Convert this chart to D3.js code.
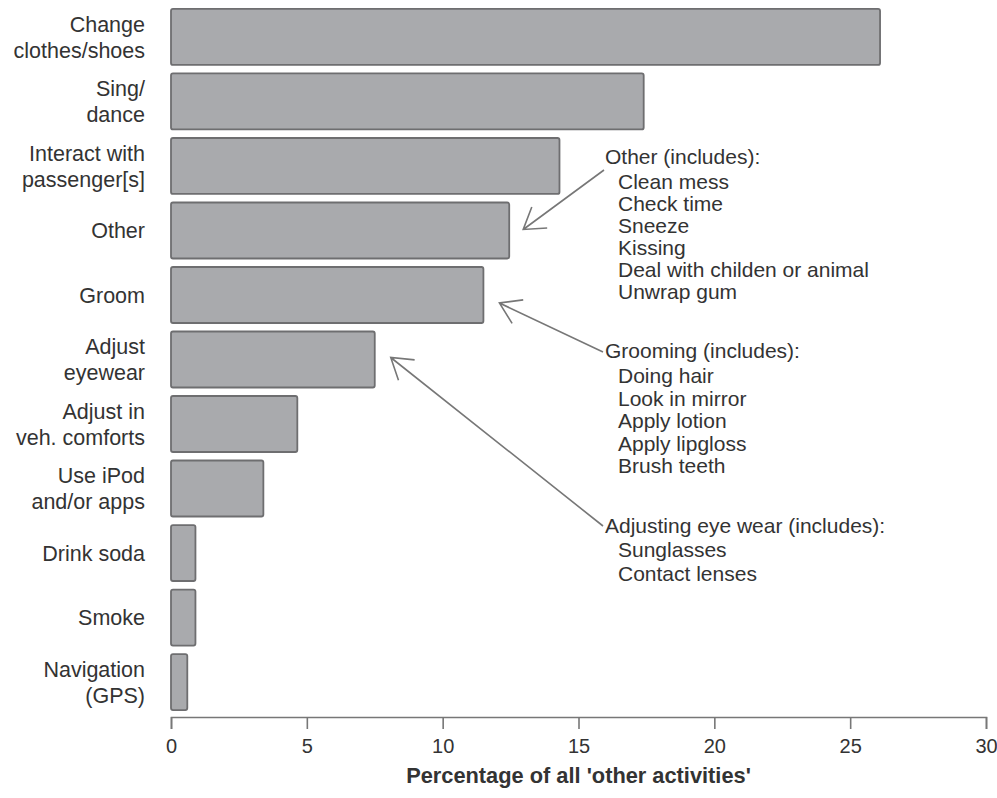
<!DOCTYPE html>
<html><head><meta charset="utf-8">
<script src="https://cdn.jsdelivr.net/npm/d3@7"></script>
<style>body{margin:0;background:#fff}svg{display:block}</style>
</head><body><svg id="c" width="997" height="798"></svg>
<script>
// ---- data ----
const categories = ["Change\nclothes/shoes","Sing/\ndance","Interact with\npassenger[s]","Other","Groom","Adjust\neyewear","Adjust in\nveh. comforts","Use iPod\nand/or apps","Drink soda","Smoke","Navigation\n(GPS)"];
const values = [26.1, 17.4, 14.3, 12.45, 11.5, 7.5, 4.65, 3.4, 0.9, 0.9, 0.6];
const tickValues = [0, 5, 10, 15, 20, 25, 30];
const axisTitle = "Percentage of all 'other activities'";
const otherNotes = ["Other (includes):","Clean mess","Check time","Sneeze","Kissing","Deal with childen or animal","Unwrap gum"];
const groomNotes = ["Grooming (includes):","Doing hair","Look in mirror","Apply lotion","Apply lipgloss","Brush teeth"];
const eyeNotes = ["Adjusting eye wear (includes):","Sunglasses","Contact lenses"];

// ---- layout ----
const svg = d3.select("#c");
const font = "'Liberation Sans', Arial, Helvetica, sans-serif";
const textCol = "#333";
const x = d3.scaleLinear().domain([0, 30]).range([171, 986]);
const y = d3.scaleBand().domain(categories).range([4.7, 714.3]).paddingInner(0.132).paddingOuter(0.066);

// bars
svg.append("g").selectAll("rect").data(values).join("rect")
  .attr("x", x(0))
  .attr("y", (d, i) => y(categories[i]))
  .attr("width", d => x(d) - x(0))
  .attr("height", y.bandwidth())
  .attr("rx", 2)
  .attr("fill", "#a9aaad")
  .attr("stroke", "#6e6e70")
  .attr("stroke-width", 1.8);

// category labels
const lab = svg.append("g").attr("font-family", font).attr("font-size", 21.5).attr("fill", textCol).attr("text-anchor", "end");
categories.forEach(c => {
  const lines = c.split("\n");
  const cy = y(c) + y.bandwidth() / 2;
  const lh = 26;
  lines.forEach((ln, j) => {
    lab.append("text")
      .attr("x", 145)
      .attr("y", cy + (j - (lines.length - 1) / 2) * lh)
      .attr("dy", "0.36em")
      .text(ln);
  });
});

// x axis
const axis = d3.axisBottom(x).tickValues(tickValues).tickSize(12).tickPadding(10).tickSizeOuter(12);
const ag = svg.append("g").attr("transform", "translate(0,717)").call(axis);
ag.select(".domain").attr("stroke", "#777").attr("stroke-width", 1.6);
ag.selectAll(".tick line").attr("stroke", "#777").attr("stroke-width", 1.6);
ag.selectAll(".tick text").attr("font-family", font).attr("font-size", 20).attr("fill", textCol);

svg.append("text")
  .attr("x", x(15)).attr("y", 783)
  .attr("text-anchor", "middle")
  .attr("font-family", font).attr("font-size", 21.8).attr("font-weight", "bold").attr("fill", textCol)
  .text(axisTitle);

// annotations
function notes(arr, x0, yHead, yFirst, lh) {
  const g = svg.append("g").attr("font-family", font).attr("font-size", 21).attr("fill", textCol);
  arr.forEach((t, i) => {
    g.append("text")
      .attr("x", i === 0 ? x0 : x0 + 13)
      .attr("y", i === 0 ? yHead : yFirst + (i - 1) * lh)
      .text(t);
  });
}
notes(otherNotes, 605, 164, 189, 22);
notes(groomNotes, 605, 358, 383, 22.5);
notes(eyeNotes, 605, 533, 557, 23.5);

// arrows
function arrow(x1, y1, x2, y2) {
  const ang = Math.atan2(y1 - y2, x1 - x2);
  const L = 24, h = Math.PI / 5.5;
  const p = d3.path();
  p.moveTo(x1, y1); p.lineTo(x2, y2);
  p.moveTo(x2 + L * Math.cos(ang - h), y2 + L * Math.sin(ang - h));
  p.lineTo(x2, y2);
  p.lineTo(x2 + L * Math.cos(ang + h), y2 + L * Math.sin(ang + h));
  svg.append("path").attr("d", p.toString()).attr("fill", "none")
    .attr("stroke", "#777").attr("stroke-width", 1.6);
}
const cy = c => y(c) + y.bandwidth() / 2;
arrow(604, 170, x(values[3]) + 14, cy(categories[3]) - 1);
arrow(603, 352, x(values[4]) + 16, cy(categories[4]) + 8);
arrow(603, 526, x(values[5]) + 16, cy(categories[5]) - 2);
</script></body></html>
